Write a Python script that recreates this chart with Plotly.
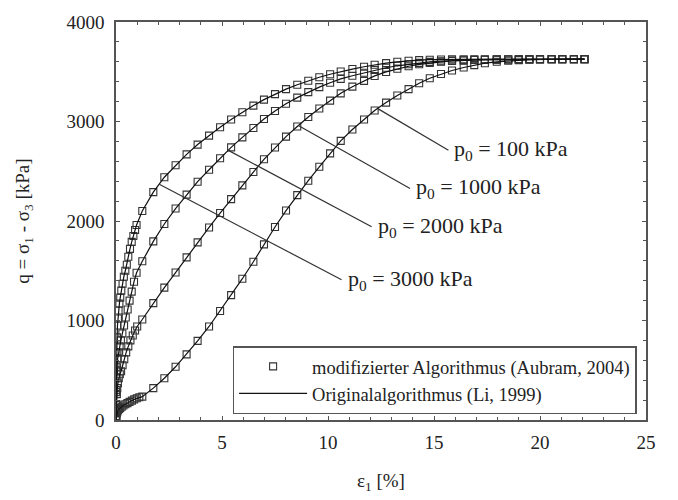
import plotly.graph_objects as go

# ---------------- data ----------------
# strain steps of the coarse loading phase [%] (shared by all curves)
EPS_SPARSE = [1.24, 1.76, 2.28, 2.81, 3.33, 3.85, 4.39, 4.91, 5.43, 5.96, 6.48, 6.98, 7.5,
              8.02, 8.55, 9.07, 9.59, 10.1, 10.6, 11.15, 11.7, 12.2, 12.74, 13.27, 13.8,
              14.3, 14.8, 15.33, 15.85, 16.4, 16.9, 17.4, 17.96, 18.5, 19.0, 19.5, 20.0,
              20.55, 21.05, 21.6, 22.1]

# p0 = 3000 kPa
EPS_3000_DENSE = [0, 0.01, 0.02, 0.03, 0.05, 0.07, 0.09, 0.12, 0.16, 0.2, 0.25, 0.31, 0.37,
                  0.44, 0.51, 0.58, 0.66, 0.74, 0.82, 0.9, 0.97]
Q_3000_DENSE = [0, 280, 500, 680, 830, 950, 1020, 1100, 1170, 1230, 1300, 1370, 1440,
                1500, 1560, 1640, 1720, 1790, 1850, 1910, 1960]
Q_3000_SPARSE = [2100, 2290, 2440, 2560, 2670, 2768, 2858, 2942, 3020, 3093, 3160, 3220,
                 3275, 3325, 3370, 3410, 3445, 3475, 3502, 3527, 3550, 3570, 3587, 3600,
                 3610, 3617, 3621, 3623, 3624, 3625, 3625, 3626, 3626, 3626, 3626, 3627,
                 3627, 3627, 3627, 3627, 3627]

# p0 = 2000 kPa
EPS_2000_DENSE = [0, 0.01, 0.02, 0.03, 0.05, 0.08, 0.12, 0.17, 0.23, 0.3, 0.38, 0.46, 0.55,
                  0.64, 0.74, 0.85, 0.97]
Q_2000_DENSE = [0, 150, 300, 420, 530, 620, 680, 740, 800, 870, 950, 1030, 1110, 1200,
                1290, 1390, 1480]
Q_2000_SPARSE = [1595, 1795, 1970, 2125, 2265, 2395, 2515, 2630, 2740, 2840, 2935, 3025,
                 3105, 3178, 3240, 3295, 3345, 3390, 3428, 3460, 3490, 3517, 3540, 3560,
                 3576, 3589, 3599, 3606, 3612, 3616, 3619, 3621, 3622, 3623, 3624, 3625,
                 3625, 3626, 3626, 3626, 3627]

# p0 = 1000 kPa
EPS_1000_DENSE = [0, 0.01, 0.02, 0.04, 0.06, 0.09, 0.13, 0.18, 0.24, 0.31, 0.39, 0.48, 0.58,
                  0.68, 0.79, 0.9, 1.0]
Q_1000_DENSE = [0, 80, 160, 260, 320, 370, 420, 460, 490, 550, 610, 680, 740, 800, 850,
                900, 940]
Q_1000_SPARSE = [1010, 1175, 1330, 1482, 1634, 1785, 1935, 2080, 2220, 2358, 2492, 2620,
                 2738, 2848, 2950, 3045, 3130, 3210, 3283, 3350, 3408, 3458, 3498, 3530,
                 3555, 3575, 3589, 3600, 3608, 3614, 3618, 3621, 3622, 3623, 3624, 3625,
                 3625, 3626, 3626, 3626, 3627]

# p0 = 100 kPa
EPS_100_DENSE = [0, 0.01, 0.02, 0.04, 0.07, 0.1, 0.15, 0.2, 0.27, 0.35, 0.44, 0.54, 0.64,
                 0.75, 0.86, 0.98, 1.1]
Q_100_DENSE = [0, 20, 40, 65, 85, 100, 112, 122, 133, 145, 158, 170, 182, 195, 207, 218, 228]
Q_100_SPARSE = [235, 320, 420, 535, 660, 795, 940, 1095, 1255, 1420, 1590, 1765, 1940,
                2105, 2260, 2405, 2545, 2680, 2805, 2920, 3020, 3110, 3190, 3262, 3325,
                3385, 3435, 3478, 3513, 3543, 3567, 3586, 3600, 3610, 3617, 3621, 3623,
                3625, 3626, 3626, 3627]

CURVES = [
    ("p<sub>0</sub> = 3000 kPa", EPS_3000_DENSE, Q_3000_DENSE, Q_3000_SPARSE),
    ("p<sub>0</sub> = 2000 kPa", EPS_2000_DENSE, Q_2000_DENSE, Q_2000_SPARSE),
    ("p<sub>0</sub> = 1000 kPa", EPS_1000_DENSE, Q_1000_DENSE, Q_1000_SPARSE),
    ("p<sub>0</sub> = 100 kPa", EPS_100_DENSE, Q_100_DENSE, Q_100_SPARSE),
]

# label leader lines: (start on curve) -> (label position), in data units
LABEL_START_X = [2.04, 5.3, 8.6, 12.37]
LABEL_START_Y = [2370, 2710, 2960, 3127]
LABEL_END_X = [10.64, 12.06, 13.87, 15.68]
LABEL_END_Y = [1410, 1943, 2327, 2710]

X_TICKS = [0, 5, 10, 15, 20, 25]
Y_TICKS = [0, 1000, 2000, 3000, 4000]

LEGEND_MOD = "modifizierter Algorithmus (Aubram, 2004)"
LEGEND_ORIG = "Originalalgorithmus (Li, 1999)"

FONT = "Liberation Serif"
INK = "#222222"
AXIS = "#555555"

fig = go.Figure()

# modified algorithm: open squares
for i, (name, ed, qd, qs) in enumerate(CURVES):
    fig.add_trace(go.Scatter(
        x=ed + EPS_SPARSE, y=qd + qs, mode="markers",
        marker=dict(symbol="square-open", size=7, color="#333333",
                    line=dict(width=1.1, color="#333333")),
        name=LEGEND_MOD, legendgroup="mod", showlegend=(i == 0),
        legendrank=1,
    ))

# original algorithm: solid lines
for i, (name, ed, qd, qs) in enumerate(CURVES):
    fig.add_trace(go.Scatter(
        x=ed + EPS_SPARSE, y=qd + qs, mode="lines",
        line=dict(color="#111111", width=1.2),
        name=LEGEND_ORIG, legendgroup="orig", showlegend=(i == 0),
        legendrank=2,
    ))

# leader lines for labels
for i in range(len(CURVES)):
    fig.add_trace(go.Scatter(
        x=[LABEL_START_X[i], LABEL_END_X[i]], y=[LABEL_START_Y[i], LABEL_END_Y[i]],
        mode="lines", line=dict(color="#333333", width=1.2),
        showlegend=False, hoverinfo="skip",
    ))
    fig.add_annotation(
        x=LABEL_END_X[i], y=LABEL_END_Y[i], text=CURVES[i][0],
        xanchor="left", yanchor="middle", xshift=4, showarrow=False,
        font=dict(family=FONT, size=22, color=INK),
    )

axis_common = dict(
    showgrid=False, zeroline=False, showline=True, mirror="ticks",
    linecolor=AXIS, linewidth=1.5,
    ticks="inside", ticklen=4, tickwidth=1.2, tickcolor=AXIS,
    tickfont=dict(family=FONT, size=19, color=INK),
)

fig.update_layout(
    width=678, height=500,
    margin=dict(l=116, r=32, t=20, b=79),
    paper_bgcolor="white", plot_bgcolor="white",
    font=dict(family=FONT, size=19, color=INK),
    xaxis=dict(
        range=[0, 25], tickvals=X_TICKS,
        minor=dict(dtick=1, ticks="inside", ticklen=3, tickcolor=AXIS),
        title=dict(text="ε<sub>1</sub> [%]", font=dict(family=FONT, size=19, color=INK),
                   standoff=22),
        ticklabelstandoff=4,
        **axis_common,
    ),
    yaxis=dict(
        range=[0, 4000], tickvals=Y_TICKS,
        minor=dict(dtick=200, ticks="inside", ticklen=3, tickcolor=AXIS),
        title=dict(text="q = σ<sub>1</sub> - σ<sub>3</sub> [kPa]",
                   font=dict(family=FONT, size=19, color=INK), standoff=32),
        ticklabelstandoff=6,
        **axis_common,
    ),
    legend=dict(
        x=0.22, y=0.185, xanchor="left", yanchor="top",
        bgcolor="white", bordercolor=AXIS, borderwidth=1.5,
        font=dict(family=FONT, size=18.5, color=INK),
        tracegroupgap=0, itemwidth=68, traceorder="normal",
    ),
    showlegend=True,
)

fig.write_html("out.html")
